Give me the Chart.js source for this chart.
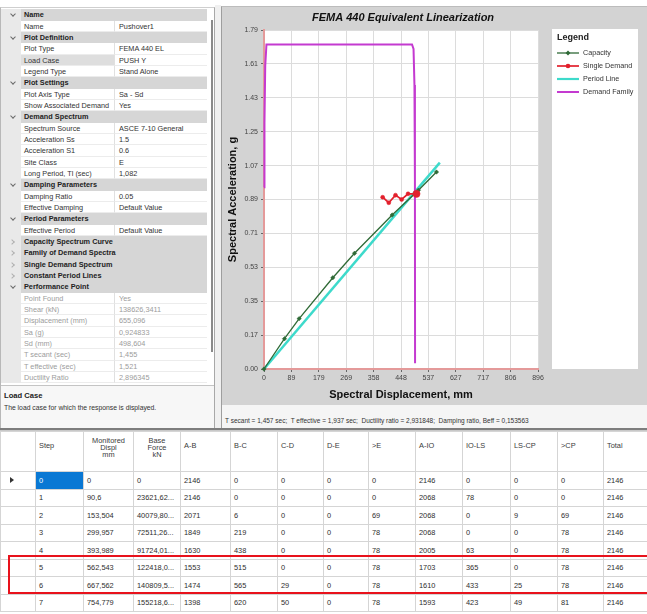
<!DOCTYPE html>
<html>
<head>
<meta charset="utf-8">
<title>FEMA 440 Equivalent Linearization</title>
<script src="https://cdn.jsdelivr.net/npm/chart.js@4.4.1/dist/chart.umd.min.js"></script>
<style>
  html, body { margin: 0; padding: 0; background: #fff; }
  body { width: 647px; height: 614px; position: relative; overflow: hidden;
         font-family: "Liberation Sans", Arial, sans-serif; color: #2b2b2b; }
  .abs { position: absolute; }
  /* property grid */
  #props { left: 0; top: 7px; width: 215px; height: 421px; border-top: 1px solid #cfcfcf;
           border-left: 1px solid #b8b8b8; border-right: 1px solid #a8a8a8; box-sizing: border-box; background: #fff; }
  .prow { position: absolute; left: 0; width: 206px; height: 11.33px; font-size: 7.3px; line-height: 11.33px; }
  .prow .gut { position: absolute; left: 0; top: 0; width: 20px; height: 100%; background: #e9e9e9; }
  .prow.cat .band { position: absolute; left: 20px; top: 0; right: 0; height: 100%; background: #d6d6d6; }
  .prow.cat .txt { position: absolute; left: 23px; top: 0; font-weight: bold; color: #222; white-space: nowrap; }
  .prow .nm { position: absolute; left: 20px; top: 0; width: 94px; height: 100%; box-sizing: border-box;
              padding-left: 3px; border-right: 1px solid #e0e0e0; border-bottom: 1px solid #ececec; white-space: nowrap; color: #333; }
  .prow .vl { position: absolute; left: 114px; top: 0; width: 92px; height: 100%; box-sizing: border-box;
              padding-left: 4px; border-bottom: 1px solid #ececec; white-space: nowrap; color: #333; }
  .prow.sel .nm { background: #dedede; }
  .prow.ro .nm, .prow.ro .vl { color: #9c9c9c; }
  .chev { position: absolute; left: 10px; top: 3px; width: 3px; height: 3px;
          border-right: 1px solid #6a6a6a; border-bottom: 1px solid #6a6a6a; transform: rotate(45deg); }
  .chev.closed { left: 9px; top: 4px; transform: rotate(-45deg); border-color: #b0b0b0; }
  #scroll { left: 211px; top: 20px; width: 2px; height: 332px; background: #8a8a8a; }
  #desc { left: 1px; top: 385px; width: 213px; height: 43px; border-top: 1px solid #c4c4c4; background: #f7f7f7; }
  #desc .h { position: absolute; left: 3px; top: 5px; font-size: 7.6px; font-weight: bold; color: #222; }
  #desc .t { position: absolute; left: 3px; top: 18px; font-size: 6.8px; color: #333; white-space: nowrap; }
  /* chart panel */
  #splitL { left: 215px; top: 5px; width: 6px; height: 423px; background: #f0f0f0; }
  #panel { left: 221px; top: 6px; width: 426px; height: 399px; background: #d3d3d3; border-left: 1px solid #9e9e9e;
           border-top: 1px solid #bcbcbc; box-sizing: border-box; }
  #cv { position: absolute; left: 0; top: 0; }
  #info { left: 221px; top: 405px; width: 426px; height: 23px; background: #f5f5f5; border-left: 1px solid #9e9e9e; box-sizing: border-box; }
  #info span { position: absolute; left: 3px; top: 12px; font-size: 6.5px; color: #333; white-space: nowrap; }
  /* results table */
  #split { left: 0; top: 428px; width: 647px; height: 3px; background: #7d7d7d; border-bottom: 1px solid #c8c8c8; box-sizing: border-box; }
  #tbl { left: 0; top: 431px; border-collapse: collapse; table-layout: fixed; width: 647px;
         font-size: 7.4px; color: #2e2e2e; border-left: 1px solid #8a8a8a; }
  #tbl th, #tbl td { border: 1px solid #d5d5d5; padding: 0 0 0 3px; text-align: left; white-space: nowrap; overflow: hidden; }
  #tbl th { height: 40px; font-weight: normal; vertical-align: top; padding-top: 9px; box-sizing: border-box; color: #3a3a3a; }
  #tbl th.ml { text-align: center; padding: 5px 0 0 0; line-height: 7.2px; }
  #tbl td { height: 17.5px; box-sizing: border-box; }
  #tbl td.rh { padding: 0; text-align: center; }
  #tbl td.selc { background: #0a78d4; color: #fff; }
  .tri { display: inline-block; width: 0; height: 0; border-top: 3px solid transparent; border-bottom: 3px solid transparent;
         border-left: 4px solid #333; margin-left: -12px; }
  #mark { left: 8px; top: 555px; width: 645px; height: 39px; border: 2px solid #e8121c; box-sizing: border-box; }
</style>
</head>
<body>

<div id="props" class="abs"></div>
<div id="scroll" class="abs"></div>
<div id="desc" class="abs"><div class="h">Load Case</div><div class="t">The load case for which the response is displayed.</div></div>

<div id="splitL" class="abs"></div>
<div id="panel" class="abs"><canvas id="cv" width="425" height="398"></canvas></div>
<div id="info" class="abs"><span>T secant = 1,457 sec;&nbsp; T effective = 1,937 sec;&nbsp; Ductility ratio = 2,931848;&nbsp; Damping ratio, Beff = 0,153563</span></div>

<div id="split" class="abs"></div>
<table id="tbl" class="abs"></table>
<div id="mark" class="abs"></div>

<script>
// ---- capacity spectrum (Sd in mm, Sa in g) ----
const capacitySd = [0, 67, 115, 225, 296, 419, 505, 564];
const capacitySa = [0, 0.160, 0.266, 0.482, 0.611, 0.813, 0.944, 1.040];

// ---- single demand spectrum, ending at the performance point ----
const singleDemandSd = [388, 408, 430, 450, 471, 498.604];
const singleDemandSa = [0.907, 0.878, 0.918, 0.895, 0.925, 0.924833];

// ---- constant period (T secant) line ----
const periodLineSd = [0, 575];
const periodLineSa = [0, 1.090];

// ---- demand spectrum family ----
const demandFamilySd = [0, 1.5, 4, 8, 484, 489, 492, 493.5, 494];
const demandFamilySa = [0.96, 1.30, 1.60, 1.714, 1.714, 1.69, 1.50, 1.00, 0.03];

// ---- axis ticks ----
const xTickValues = [0, 89.6, 179.2, 268.8, 358.4, 448, 537.6, 627.2, 716.8, 806.4, 896];
const xTickLabels = ['0', '89', '179', '269', '358', '448', '537', '627', '717', '806', '896'];
const yTickValues = [0, 0.179, 0.358, 0.537, 0.716, 0.895, 1.074, 1.253, 1.432, 1.611, 1.79];
const yTickLabels = ['0.00', '0.17', '0.35', '0.53', '0.71', '0.89', '1.07', '1.25', '1.43', '1.61', '1.79'];

// ---- property grid ----
const propertyRows = [
  ['cat', 'Name'],
  ['p', 'Name', 'Pushover1'],
  ['cat', 'Plot Definition'],
  ['p', 'Plot Type', 'FEMA 440 EL'],
  ['sel', 'Load Case', 'PUSH Y'],
  ['p', 'Legend Type', 'Stand Alone'],
  ['cat', 'Plot Settings'],
  ['p', 'Plot Axis Type', 'Sa - Sd'],
  ['p', 'Show Associated Demand', 'Yes'],
  ['cat', 'Demand Spectrum'],
  ['p', 'Spectrum Source', 'ASCE 7-10 General'],
  ['p', 'Acceleration Ss', '1.5'],
  ['p', 'Acceleration S1', '0.6'],
  ['p', 'Site Class', 'E'],
  ['p', 'Long Period, Tl (sec)', '1,082'],
  ['cat', 'Damping Parameters'],
  ['p', 'Damping Ratio', '0.05'],
  ['p', 'Effective Damping', 'Default Value'],
  ['cat', 'Period Parameters'],
  ['p', 'Effective Period', 'Default Value'],
  ['closed', 'Capacity Spectrum Curve'],
  ['closed', 'Family of Demand Spectra'],
  ['closed', 'Single Demand Spectrum'],
  ['closed', 'Constant Period Lines'],
  ['cat', 'Performance Point'],
  ['ro', 'Point Found', 'Yes'],
  ['ro', 'Shear (kN)', '138626,3411'],
  ['ro', 'Displacement (mm)', '655,096'],
  ['ro', 'Sa (g)', '0,924833'],
  ['ro', 'Sd (mm)', '498,604'],
  ['ro', 'T secant (sec)', '1,455'],
  ['ro', 'T effective (sec)', '1,521'],
  ['ro', 'Ductility Ratio', '2,896345']
];

// ---- pushover steps table ----
const tableHeaders = ['', 'Step', 'Monitored<br>Displ<br>mm', 'Base<br>Force<br>kN', 'A-B', 'B-C', 'C-D', 'D-E', '&gt;E', 'A-IO', 'IO-LS', 'LS-CP', '&gt;CP', 'Total'];
const columnWidths = [35, 48, 50, 47, 50, 47, 46, 45, 47, 47, 48, 47, 46, 44];
const stepRows = [
  ['0', '0', '0', '2146', '0', '0', '0', '0', '2146', '0', '0', '0', '2146'],
  ['1', '90,6', '23621,62...', '2146', '0', '0', '0', '0', '2068', '78', '0', '0', '2146'],
  ['2', '153,504', '40079,80...', '2071', '6', '0', '0', '69', '2068', '0', '9', '69', '2146'],
  ['3', '299,957', '72511,26...', '1849', '219', '0', '0', '78', '2068', '0', '0', '78', '2146'],
  ['4', '393,989', '91724,01...', '1630', '438', '0', '0', '78', '2005', '63', '0', '78', '2146'],
  ['5', '562,543', '122418,0...', '1553', '515', '0', '0', '78', '1703', '365', '0', '78', '2146'],
  ['6', '667,562', '140809,5...', '1474', '565', '29', '0', '78', '1610', '433', '25', '78', '2146'],
  ['7', '754,779', '155218,6...', '1398', '620', '50', '0', '78', '1593', '423', '49', '81', '2146']
];

// build the property grid
(function () {
  const host = document.getElementById('props');
  propertyRows.forEach((r, i) => {
    const d = document.createElement('div');
    const kind = r[0];
    const isCat = kind === 'cat' || kind === 'closed';
    d.className = 'prow' + (isCat ? ' cat' : '') + (kind === 'sel' ? ' sel' : '') + (kind === 'ro' ? ' ro' : '');
    d.style.top = (1.3 + i * 11.33) + 'px';
    if (isCat) {
      d.innerHTML = '<div class="gut"></div><div class="band"></div><div class="chev' + (kind === 'closed' ? ' closed' : '') +
        '"></div><div class="txt">' + r[1] + '</div>';
    } else {
      d.innerHTML = '<div class="gut"></div><div class="nm">' + r[1] + '</div><div class="vl">' + r[2] + '</div>';
    }
    host.appendChild(d);
  });
})();

// build the steps table
(function () {
  const t = document.getElementById('tbl');
  let html = '<colgroup>' + columnWidths.map(w => '<col style="width:' + w + 'px">').join('') + '</colgroup>';
  html += '<tr>' + tableHeaders.map(h => '<th' + (h.indexOf('<br>') >= 0 ? ' class="ml"' : '') + '>' + h + '</th>').join('') + '</tr>';
  stepRows.forEach((row, i) => {
    html += '<tr><td class="rh">' + (i === 0 ? '<span class="tri"></span>' : '') + '</td>';
    row.forEach((c, j) => { html += '<td' + (i === 0 && j === 0 ? ' class="selc"' : '') + '>' + c + '</td>'; });
    html += '</tr>';
  });
  t.innerHTML = html;
})();

// ---- chart ----
const zip = (xs, ys) => xs.map((x, i) => ({ x: x, y: ys[i] }));

const panelPlugin = {
  id: 'panelDecor',
  beforeDraw(chart) {
    const { ctx, chartArea: a } = chart;
    ctx.save();
    ctx.fillStyle = '#ffffff';
    ctx.fillRect(a.left, a.top, a.right - a.left, a.bottom - a.top);
    ctx.restore();
  },
  afterDraw(chart) {
    const { ctx, chartArea: a } = chart;
    ctx.save();
    // title
    ctx.fillStyle = '#111';
    ctx.font = 'italic bold 11px "Liberation Sans", Arial, sans-serif';
    ctx.textAlign = 'center';
    ctx.textBaseline = 'middle';
    ctx.fillText('FEMA 440 Equivalent Linearization', (a.left + a.right) / 2 + 2, 11);

    // legend box
    const bx = 330, by = 22, bw = 86, bh = a.bottom - by;
    ctx.fillStyle = '#ffffff';
    ctx.fillRect(bx, by, bw, bh);
    ctx.fillStyle = '#222';
    ctx.textAlign = 'left';
    ctx.font = 'bold 9px "Liberation Sans", Arial, sans-serif';
    ctx.fillText('Legend', bx + 5, by + 9);
    ctx.font = '7.2px "Liberation Sans", Arial, sans-serif';
    chart.data.datasets.forEach((ds, i) => {
      const y = by + 24 + i * 13;
      const x0 = bx + 5, x1 = bx + 27;
      ctx.strokeStyle = ds.borderColor;
      ctx.lineWidth = Math.min(ds.borderWidth, 2.2);
      ctx.beginPath(); ctx.moveTo(x0, y); ctx.lineTo(x1, y); ctx.stroke();
      if (ds.legendMarker) {
        const cx = (x0 + x1) / 2;
        ctx.fillStyle = ds.backgroundColor;
        ctx.beginPath();
        if (ds.pointStyle === 'rectRot') {
          ctx.moveTo(cx, y - 2.4); ctx.lineTo(cx + 2.4, y); ctx.lineTo(cx, y + 2.4); ctx.lineTo(cx - 2.4, y);
          ctx.closePath();
        } else {
          ctx.arc(cx, y, 2.3, 0, Math.PI * 2);
        }
        ctx.fill();
      }
      ctx.fillStyle = '#333';
      ctx.fillText(ds.label, bx + 31, y + 0.5);
    });
    ctx.restore();
  }
};

const axisFont = { family: '"Liberation Sans", Arial, sans-serif', size: 7 };
const titleFont = { family: '"Liberation Sans", Arial, sans-serif', size: 11, weight: 'bold' };

new Chart(document.getElementById('cv'), {
  type: 'scatter',
  data: {
    datasets: [
      {
        label: 'Capacity', data: zip(capacitySd, capacitySa), showLine: true,
        borderColor: '#2f6a36', backgroundColor: '#2f6a36', borderWidth: 1.3,
        pointStyle: 'rectRot', pointRadius: 2.2, pointBorderWidth: 0.5, legendMarker: true, order: 1, clip: false
      },
      {
        label: 'Single Demand', data: zip(singleDemandSd, singleDemandSa), showLine: true,
        borderColor: '#e2202c', backgroundColor: '#e2202c', borderWidth: 1.7,
        pointStyle: 'circle', pointRadius: [2, 2, 2, 2, 2, 3.6], pointBorderWidth: 0.5, legendMarker: true, order: 0, clip: false
      },
      {
        label: 'Period Line', data: zip(periodLineSd, periodLineSa), showLine: true,
        borderColor: '#3ddacb', backgroundColor: '#3ddacb', borderWidth: 2.5,
        pointRadius: 0, legendMarker: false, order: 3, clip: false
      },
      {
        label: 'Demand Family', data: zip(demandFamilySd, demandFamilySa), showLine: true,
        borderColor: '#c43ad0', backgroundColor: '#c43ad0', borderWidth: 2,
        pointRadius: 0, legendMarker: false, order: 2, clip: false
      }
    ]
  },
  options: {
    responsive: false,
    animation: false,
    devicePixelRatio: 1,
    layout: { padding: { left: 0, top: 23, right: 109, bottom: 0 } },
    elements: { line: { tension: 0 } },
    plugins: { legend: { display: false }, tooltip: { enabled: false }, title: { display: false } },
    scales: {
      x: {
        type: 'linear', min: 0, max: 896,
        afterBuildTicks: s => { s.ticks = xTickValues.map(v => ({ value: v })); },
        afterFit: s => { s.height = 36; },
        ticks: { callback: (v, i) => xTickLabels[i], font: axisFont, color: '#444', padding: 2,
                 autoSkip: false, maxRotation: 0, minRotation: 0 },
        grid: { color: '#dcdcdc', lineWidth: 1, tickLength: 3, tickColor: '#666' },
        border: { color: '#e49a9a', width: 2 },
        title: { display: true, text: 'Spectral Displacement, mm', font: titleFont, color: '#111', padding: { top: 2, bottom: 3 } }
      },
      y: {
        type: 'linear', min: 0, max: 1.79,
        afterBuildTicks: s => { s.ticks = yTickValues.map(v => ({ value: v })); },
        afterFit: s => { s.width = 42; },
        ticks: { callback: (v, i) => yTickLabels[i], font: axisFont, color: '#444', padding: 3, autoSkip: false },
        grid: { color: '#dcdcdc', lineWidth: 1, tickLength: 3, tickColor: '#666' },
        border: { color: '#e49a9a', width: 2 },
        title: { display: true, text: 'Spectral Acceleration, g', font: titleFont, color: '#111', padding: { top: 4, bottom: 2 } }
      }
    }
  },
  plugins: [panelPlugin]
});
</script>
</body>
</html>
